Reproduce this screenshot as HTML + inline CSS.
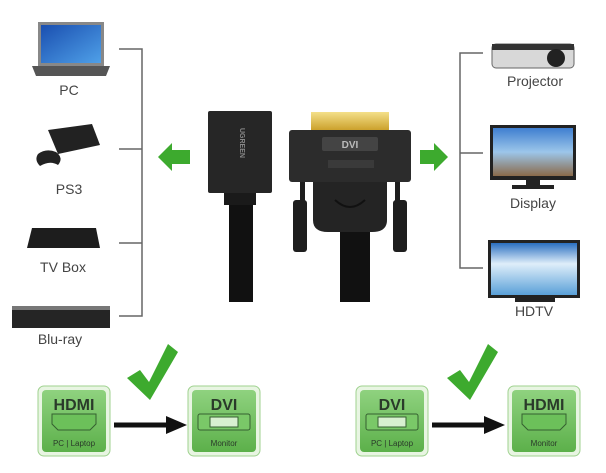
<!DOCTYPE html>
<html><head><meta charset="utf-8"><style>
html,body{margin:0;padding:0;background:#fff;}
svg{display:block;font-family:"Liberation Sans",sans-serif;}
</style></head><body>
<svg width="606" height="473" viewBox="0 0 606 473" xmlns="http://www.w3.org/2000/svg">
<defs>
<linearGradient id="scr" x1="0" y1="0" x2="1" y2="1"><stop offset="0" stop-color="#1a4fb0"/><stop offset="1" stop-color="#4fa0e8"/></linearGradient>
<linearGradient id="sky" x1="0" y1="0" x2="0" y2="1"><stop offset="0" stop-color="#3f7fd0"/><stop offset="0.5" stop-color="#9cc6ea"/><stop offset="1" stop-color="#8a6a4a"/></linearGradient>
<linearGradient id="tv" x1="0" y1="0" x2="0" y2="1"><stop offset="0" stop-color="#2a6fc0"/><stop offset="0.4" stop-color="#dfeefa"/><stop offset="1" stop-color="#5aa0d8"/></linearGradient>
<linearGradient id="gold" x1="0" y1="0" x2="0" y2="1"><stop offset="0" stop-color="#f4e08a"/><stop offset="1" stop-color="#c79a22"/></linearGradient>
<linearGradient id="gbox" x1="0" y1="0" x2="0" y2="1"><stop offset="0" stop-color="#8fd27f"/><stop offset="1" stop-color="#5cb04a"/></linearGradient>
</defs>
<!-- brackets -->
<g stroke="#666" stroke-width="1.5" fill="none">
<path d="M119 49H142V316H119M119 149H142M119 243H142"/>
<path d="M483 53H460V268H483M460 153H483"/>
</g>
<!-- laptop -->
<path d="M38 22H104V66H38Z" fill="#888"/><rect x="41" y="25" width="60" height="38" fill="url(#scr)"/>
<path d="M32 66H110L106 76H36Z" fill="#555"/>
<text x="69" y="95" font-size="14" fill="#444" text-anchor="middle">PC</text>
<!-- PS3 -->
<path d="M48 130L92 124L100 145L58 154Z" fill="#222"/>
<path d="M38 154Q46 148 56 152Q64 158 58 165Q50 160 40 166Q34 160 38 154Z" fill="#222"/>
<text x="69" y="194" font-size="14" fill="#444" text-anchor="middle">PS3</text>
<!-- TV box -->
<path d="M32 228H96L100 248H27Z" fill="#1d1d1d"/>
<text x="63" y="272" font-size="14" fill="#444" text-anchor="middle">TV Box</text>
<!-- Blu-ray -->
<rect x="12" y="306" width="98" height="22" fill="#252525"/><rect x="12" y="306" width="98" height="4" fill="#777"/>
<text x="60" y="344" font-size="14" fill="#444" text-anchor="middle">Blu-ray</text>
<!-- Projector -->
<rect x="492" y="44" width="82" height="24" rx="4" fill="#d8d8d8" stroke="#666"/>
<rect x="492" y="44" width="82" height="6" fill="#333"/>
<circle cx="556" cy="58" r="9" fill="#222"/>
<text x="535" y="86" font-size="14" fill="#444" text-anchor="middle">Projector</text>
<!-- Display -->
<rect x="490" y="125" width="86" height="55" fill="#222"/><rect x="493" y="128" width="80" height="48" fill="url(#sky)"/>
<rect x="526" y="180" width="14" height="5" fill="#222"/><rect x="512" y="185" width="42" height="4" fill="#222"/>
<text x="533" y="208" font-size="14" fill="#444" text-anchor="middle">Display</text>
<!-- HDTV -->
<rect x="488" y="240" width="92" height="58" fill="#222"/><rect x="491" y="243" width="86" height="52" fill="url(#tv)"/>
<rect x="515" y="298" width="40" height="4" fill="#222"/>
<text x="534" y="316" font-size="14" fill="#444" text-anchor="middle">HDTV</text>
<!-- green arrows -->
<path d="M158 157L172 143V150H190V164H172V171Z" fill="#3daa2e"/>
<path d="M448 157L434 143V150H420V164H434V171Z" fill="#3daa2e"/>
<!-- HDMI connector -->
<rect x="208" y="111" width="64" height="82" rx="2" fill="#262626"/>
<text transform="translate(240 128) rotate(90)" font-size="7" fill="#888" font-weight="bold">UGREEN</text>
<rect x="224" y="193" width="32" height="12" fill="#1a1a1a"/>
<rect x="229" y="205" width="24" height="97" fill="#111"/>
<!-- DVI connector -->
<rect x="311" y="112" width="78" height="20" fill="url(#gold)"/>
<rect x="289" y="130" width="122" height="52" rx="3" fill="#2c2c2c"/>
<rect x="322" y="137" width="56" height="14" rx="2" fill="#444"/>
<text x="350" y="148" font-size="10" fill="#bbb" text-anchor="middle" font-weight="bold">DVI</text>
<rect x="328" y="160" width="46" height="8" fill="#3a3a3a"/>
<path d="M313 182H387V220Q387 232 372 232H328Q313 232 313 220Z" fill="#242424"/>
<path d="M335 200Q350 214 365 200" stroke="#111" stroke-width="2" fill="none"/>
<rect x="300" y="182" width="5" height="20" fill="#1e1e1e"/><rect x="395" y="182" width="5" height="20" fill="#1e1e1e"/>
<rect x="293" y="200" width="14" height="52" rx="3" fill="#1e1e1e"/><rect x="393" y="200" width="14" height="52" rx="3" fill="#1e1e1e"/>
<rect x="340" y="232" width="30" height="70" fill="#111"/>
<!-- bottom -->
<g id="box">
</g>
<!-- left pair -->
<rect x="38" y="386" width="72" height="70" rx="6" fill="#e8f5e2" stroke="#9fd28f"/><rect x="42" y="390" width="64" height="62" rx="4" fill="url(#gbox)"/>
<text x="74" y="410" font-size="16" font-weight="bold" fill="#2a3a2a" text-anchor="middle">HDMI</text>
<path d="M52 414H96V424L90 430H58L52 424Z" fill="#6cc05a" stroke="#356030"/>
<text x="74" y="446" font-size="8" fill="#2a3a2a" text-anchor="middle">PC | Laptop</text>
<rect x="188" y="386" width="72" height="70" rx="6" fill="#e8f5e2" stroke="#9fd28f"/><rect x="192" y="390" width="64" height="62" rx="4" fill="url(#gbox)"/>
<text x="224" y="410" font-size="16" font-weight="bold" fill="#2a3a2a" text-anchor="middle">DVI</text>
<rect x="198" y="414" width="52" height="16" rx="2" fill="#7ac868" stroke="#356030"/><rect x="210" y="417" width="28" height="10" fill="#d8f0d0" stroke="#356030"/>
<text x="224" y="446" font-size="8" fill="#2a3a2a" text-anchor="middle">Monitor</text>
<path d="M114 425H170" stroke="#111" stroke-width="5"/><path d="M166 416L187 425L166 434Z" fill="#111"/>
<path d="M127 378L140 370L149 382L168 344L178 352L150 400Z" fill="#3daa2e"/>
<!-- right pair -->
<rect x="356" y="386" width="72" height="70" rx="6" fill="#e8f5e2" stroke="#9fd28f"/><rect x="360" y="390" width="64" height="62" rx="4" fill="url(#gbox)"/>
<text x="392" y="410" font-size="16" font-weight="bold" fill="#2a3a2a" text-anchor="middle">DVI</text>
<rect x="366" y="414" width="52" height="16" rx="2" fill="#7ac868" stroke="#356030"/><rect x="378" y="417" width="28" height="10" fill="#d8f0d0" stroke="#356030"/>
<text x="392" y="446" font-size="8" fill="#2a3a2a" text-anchor="middle">PC | Laptop</text>
<rect x="508" y="386" width="72" height="70" rx="6" fill="#e8f5e2" stroke="#9fd28f"/><rect x="512" y="390" width="64" height="62" rx="4" fill="url(#gbox)"/>
<text x="544" y="410" font-size="16" font-weight="bold" fill="#2a3a2a" text-anchor="middle">HDMI</text>
<path d="M522 414H566V424L560 430H528L522 424Z" fill="#6cc05a" stroke="#356030"/>
<text x="544" y="446" font-size="8" fill="#2a3a2a" text-anchor="middle">Monitor</text>
<path d="M432 425H488" stroke="#111" stroke-width="5"/><path d="M484 416L505 425L484 434Z" fill="#111"/>
<path d="M447 378L460 370L469 382L488 344L498 352L470 400Z" fill="#3daa2e"/>
</svg>
</body></html>
